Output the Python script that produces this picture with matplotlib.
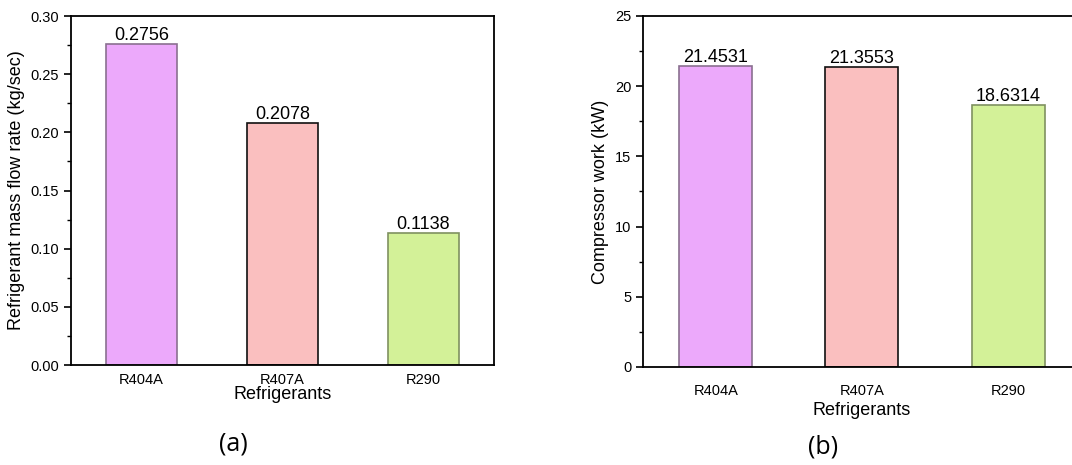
import numpy as np
import matplotlib.pyplot as plt
from matplotlib.ticker import MultipleLocator

refrigerants = ["R404A", "R407A", "R290"]
mass_flow = [0.2756, 0.2078, 0.1138]
comp_work = [21.4531, 21.3553, 18.6314]
mass_labels = ["0.2756", "0.2078", "0.1138"]
work_labels = ["21.4531", "21.3553", "18.6314"]

fills = ["#ECA9FB", "#FABFBF", "#D3F198"]
edges = ["#8a7090", "#111111", "#7f9160"]

plt.rcParams['font.family'] = ['Liberation Sans', 'DejaVu Sans']

fig = plt.figure(figsize=(10.72, 4.65), dpi=100)
ax1 = fig.add_axes([0.0662, 0.215, 0.3946, 0.7505])
ax2 = fig.add_axes([0.5998, 0.2108, 0.4086, 0.755])

x = np.arange(len(refrigerants))


def draw(ax, vals, labels, ylim, major, minor, ylabel, fmt, tickpad, labpad):
    bars = ax.bar(x, vals, width=0.5, color=fills, edgecolor=edges, linewidth=1.2)
    for b, t in zip(bars, labels):
        ax.text(b.get_x() + b.get_width() / 2, b.get_height(), t,
                ha="center", va="bottom", fontsize=13)
    ax.set_xlim(-0.5, 2.5)
    ax.set_ylim(*ylim)
    ax.yaxis.set_major_locator(MultipleLocator(major))
    ax.yaxis.set_minor_locator(MultipleLocator(minor))
    ax.yaxis.set_major_formatter(fmt)
    ax.set_xticks(x)
    ax.set_xticklabels(refrigerants)
    ax.tick_params(axis="x", length=0, labelsize=10.5, pad=tickpad)
    ax.tick_params(axis="y", which="major", direction="out", length=5, width=1.2, labelsize=10.5)
    ax.tick_params(axis="y", which="minor", direction="out", length=3, width=1)
    ax.set_xlabel("Refrigerants", fontsize=13, labelpad=labpad)
    ax.set_ylabel(ylabel, fontsize=13)
    for s in ax.spines.values():
        s.set_linewidth(1.3)


draw(ax1, mass_flow, mass_labels, (0, 0.30), 0.05, 0.025,
     "Refrigerant mass flow rate (kg/sec)", "{x:.2f}", 6, -1)
draw(ax2, comp_work, work_labels, (0, 25), 5, 2.5,
     "Compressor work (kW)", "{x:.0f}", 12, 3)

fig.text(0.2173, 0.045, "(a)", ha="center", va="center", fontsize=18, family=["Open Sans", "DejaVu Sans"])
fig.text(0.7677, 0.039, "(b)", ha="center", va="center", fontsize=18, family=["Open Sans", "DejaVu Sans"])

fig.savefig("out.png", dpi=100)
